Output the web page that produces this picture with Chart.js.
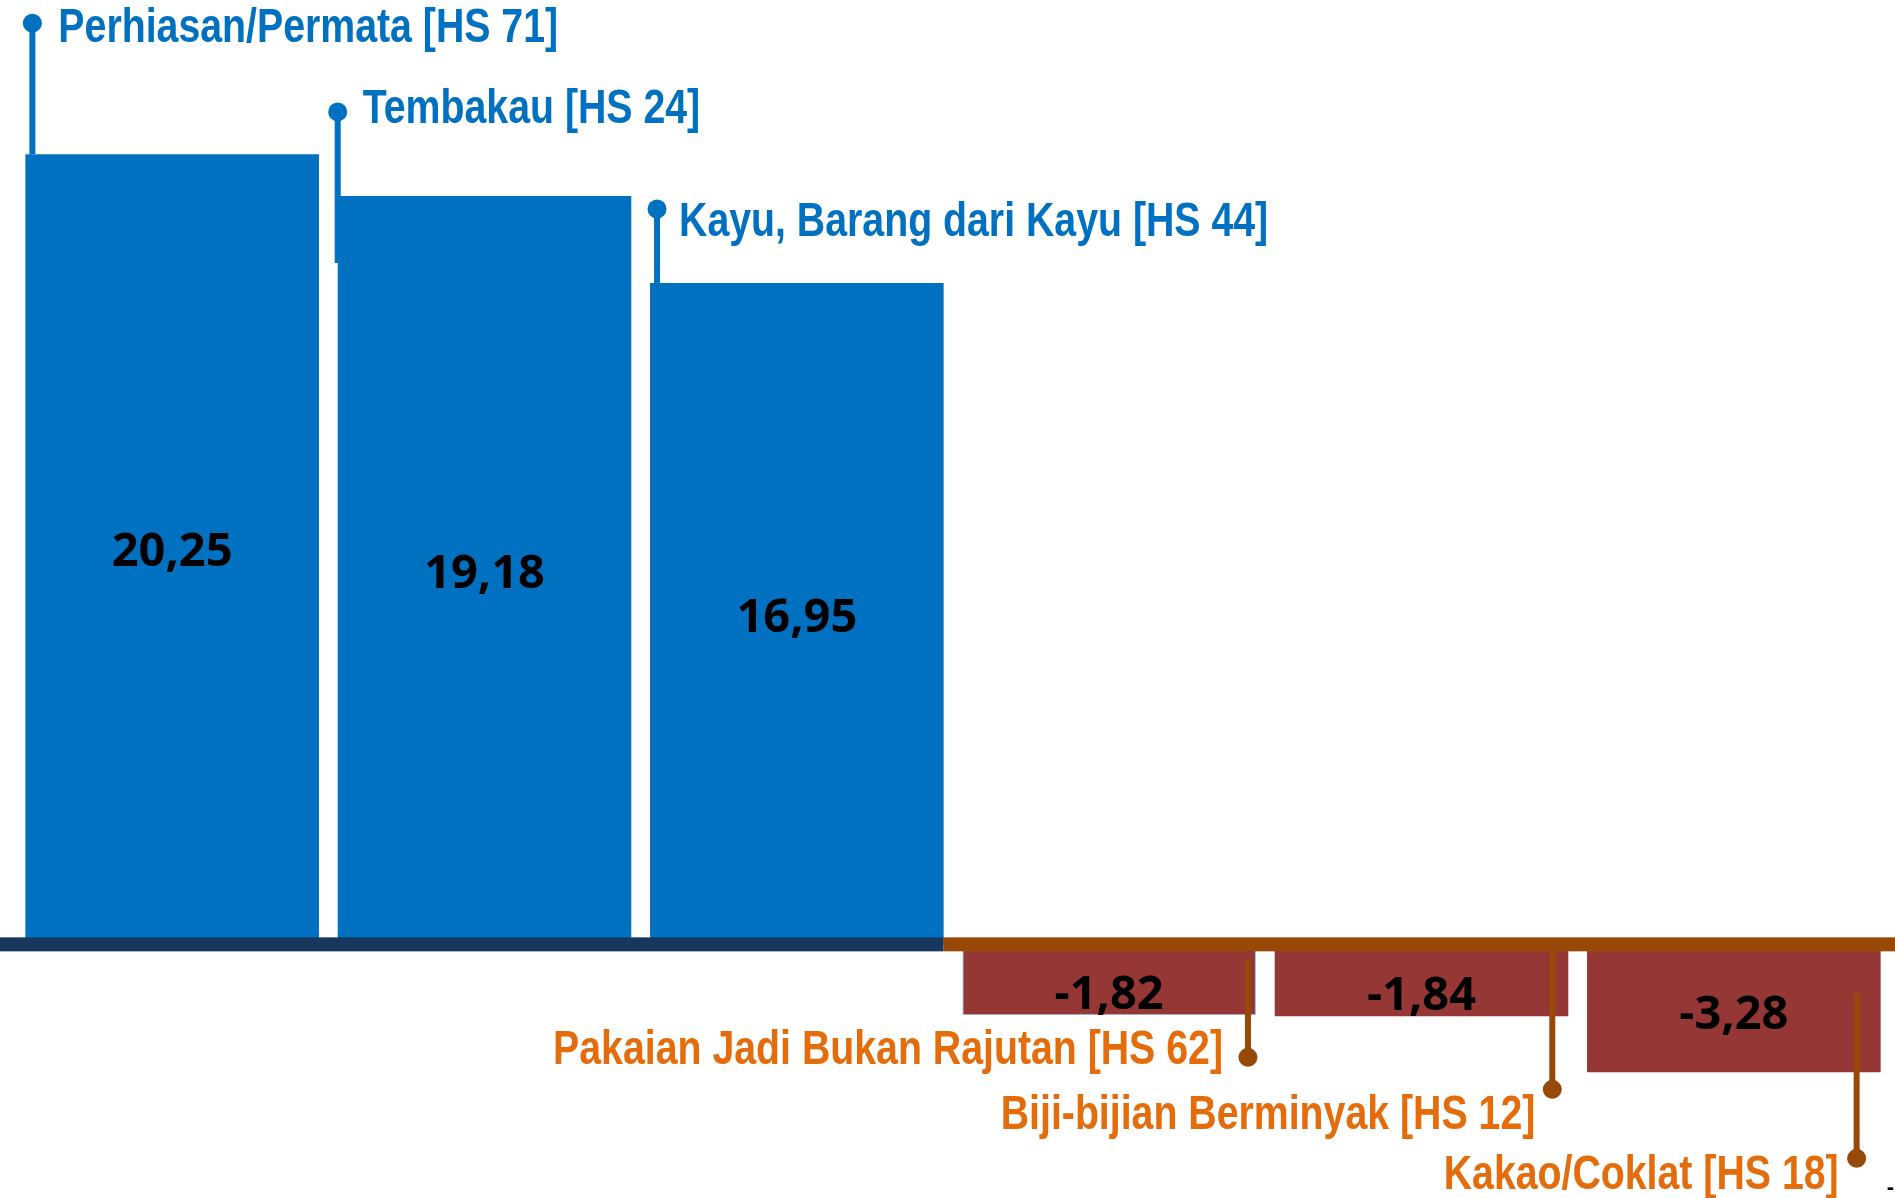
<!DOCTYPE html>
<html>
<head>
<meta charset="utf-8">
<script src="https://cdn.jsdelivr.net/npm/chart.js@4"></script>
<style>
  html, body { margin: 0; padding: 0; background: #fff; }
  canvas { display: block; }
</style>
</head>
<body>
<canvas id="myChart" width="1895" height="1198"></canvas>
<script>
// data
const categories = [
  'Perhiasan/Permata [HS 71]',
  'Tembakau [HS 24]',
  'Kayu, Barang dari Kayu [HS 44]',
  'Pakaian Jadi Bukan Rajutan [HS 62]',
  'Biji-bijian Berminyak [HS 12]',
  'Kakao/Coklat [HS 18]',
];
const values = [20.25, 19.18, 16.95, -1.82, -1.84, -3.28];
const valueLabels = ['20,25', '19,18', '16,95', '-1,82', '-1,84', '-3,28'];

const colorBlue = '#0070C0';
const colorRed = '#953735';
const colorNavy = '#17375E';
const colorBrown = '#984807';
const colorOrange = '#E46C0A';

// no narrow font installed, so squeeze the label text horizontally
const labelFont = '700 48px "Liberation Sans", Arial, sans-serif';
const labelSqueeze = 0.818;
const valueFont = '700 47px "Open Sans", sans-serif';
const valueDy = [3, 4, 5, 16, 16, 7];

// callout layout, offsets in px from the bar edges
// up: dot above bar top; down: dot below zero line
const callouts = [
  { side: 'up', lineDx: 7, dotUp: 131, lineDown: 0, gap: 26, textDy: 6 },
  { side: 'up', lineDx: 0, dotUp: 84, lineDown: 67, gap: 25, textDy: -2 },
  { side: 'up', lineDx: 7, dotUp: 74, lineDown: 0, gap: 22, textDy: 14 },
  { side: 'down', lineDx: -8, lineTop: 15, dotDown: 113, gap: 25, textDy: -7 },
  { side: 'down', lineDx: -16, lineTop: 6, dotDown: 145, gap: 17, textDy: 26 },
  { side: 'down', lineDx: -24, lineTop: 49, dotDown: 214, gap: 18, textDy: 17 },
];

const dot = (ctx, x, y, color) => {
  ctx.beginPath();
  ctx.arc(x, y, 9.5, 0, Math.PI * 2);
  ctx.fillStyle = color;
  ctx.fill();
};

const squeezedText = (ctx, text, x, y) => {
  ctx.save();
  ctx.translate(x, y);
  ctx.scale(labelSqueeze, 1);
  ctx.fillText(text, 0, 0);
  ctx.restore();
};

const decorPlugin = {
  id: 'decor',
  afterDatasetsDraw(chart) {
    const { ctx, scales } = chart;
    const meta = chart.getDatasetMeta(0);
    const zeroY = scales.y.getPixelForValue(0);

    ctx.save();

    // value labels inside bars
    ctx.font = valueFont;
    ctx.fillStyle = '#000';
    ctx.textAlign = 'center';
    ctx.textBaseline = 'middle';
    meta.data.forEach((bar, i) => {
      const mid = (bar.y + bar.base) / 2 + valueDy[i];
      ctx.fillText(valueLabels[i], bar.x, mid);
    });

    // thick zero line: navy under positive bars, brown under negatives
    const lastPos = values.findLastIndex((v) => v >= 0);
    const split = meta.data[lastPos].x + meta.data[lastPos].width / 2;
    ctx.fillStyle = colorNavy;
    ctx.fillRect(0, zeroY - 7, split, 14);
    ctx.fillStyle = colorBrown;
    ctx.fillRect(split, zeroY - 7, chart.width - split, 14);

    // callouts
    ctx.font = labelFont;
    ctx.lineWidth = 6;
    meta.data.forEach((bar, i) => {
      const c = callouts[i];
      const left = bar.x - bar.width / 2;
      const right = bar.x + bar.width / 2;
      if (c.side === 'up') {
        const x = left + c.lineDx;
        const dotY = bar.y - c.dotUp;
        ctx.strokeStyle = colorBlue;
        ctx.beginPath();
        ctx.moveTo(x, dotY);
        ctx.lineTo(x, bar.y + c.lineDown);
        ctx.stroke();
        dot(ctx, x, dotY, colorBlue);
        ctx.fillStyle = colorBlue;
        ctx.textAlign = 'left';
        squeezedText(ctx, categories[i], x + c.gap, dotY + c.textDy);
      } else {
        const x = right + c.lineDx;
        const dotY = zeroY + c.dotDown;
        ctx.strokeStyle = colorBrown;
        ctx.beginPath();
        ctx.moveTo(x, zeroY + c.lineTop);
        ctx.lineTo(x, dotY);
        ctx.stroke();
        dot(ctx, x, dotY, colorBrown);
        ctx.fillStyle = colorOrange;
        ctx.textAlign = 'right';
        squeezedText(ctx, categories[i], x - c.gap, dotY + c.textDy);
      }
    });

    // stray mark at the bottom right edge
    ctx.fillStyle = '#000';
    ctx.font = '700 22px "Liberation Sans", sans-serif';
    ctx.textAlign = 'right';
    ctx.fillText('-', chart.width - 1, chart.height - 10);

    ctx.restore();
  },
};

const ctx = document.getElementById('myChart');

new Chart(ctx, {
  type: 'bar',
  data: {
    labels: categories,
    datasets: [
      {
        data: values,
        backgroundColor: values.map((v) => (v >= 0 ? colorBlue : colorRed)),
        borderColor: values.map((v, i) => (i === 3 ? '#9DC3E6' : 'transparent')),
        borderWidth: values.map((v, i) => (i === 3 ? 1 : 0)),
        barPercentage: 0.94,
        categoryPercentage: 1,
      },
    ],
  },
  options: {
    responsive: false,
    animation: false,
    layout: { padding: { left: 16, right: 5, top: 0, bottom: 0 } },
    scales: {
      x: { display: false },
      y: { display: false, min: -6.5, max: 24.2 },
    },
    plugins: {
      legend: { display: false },
      tooltip: { enabled: false },
    },
  },
  plugins: [decorPlugin],
});
</script>
</body>
</html>
